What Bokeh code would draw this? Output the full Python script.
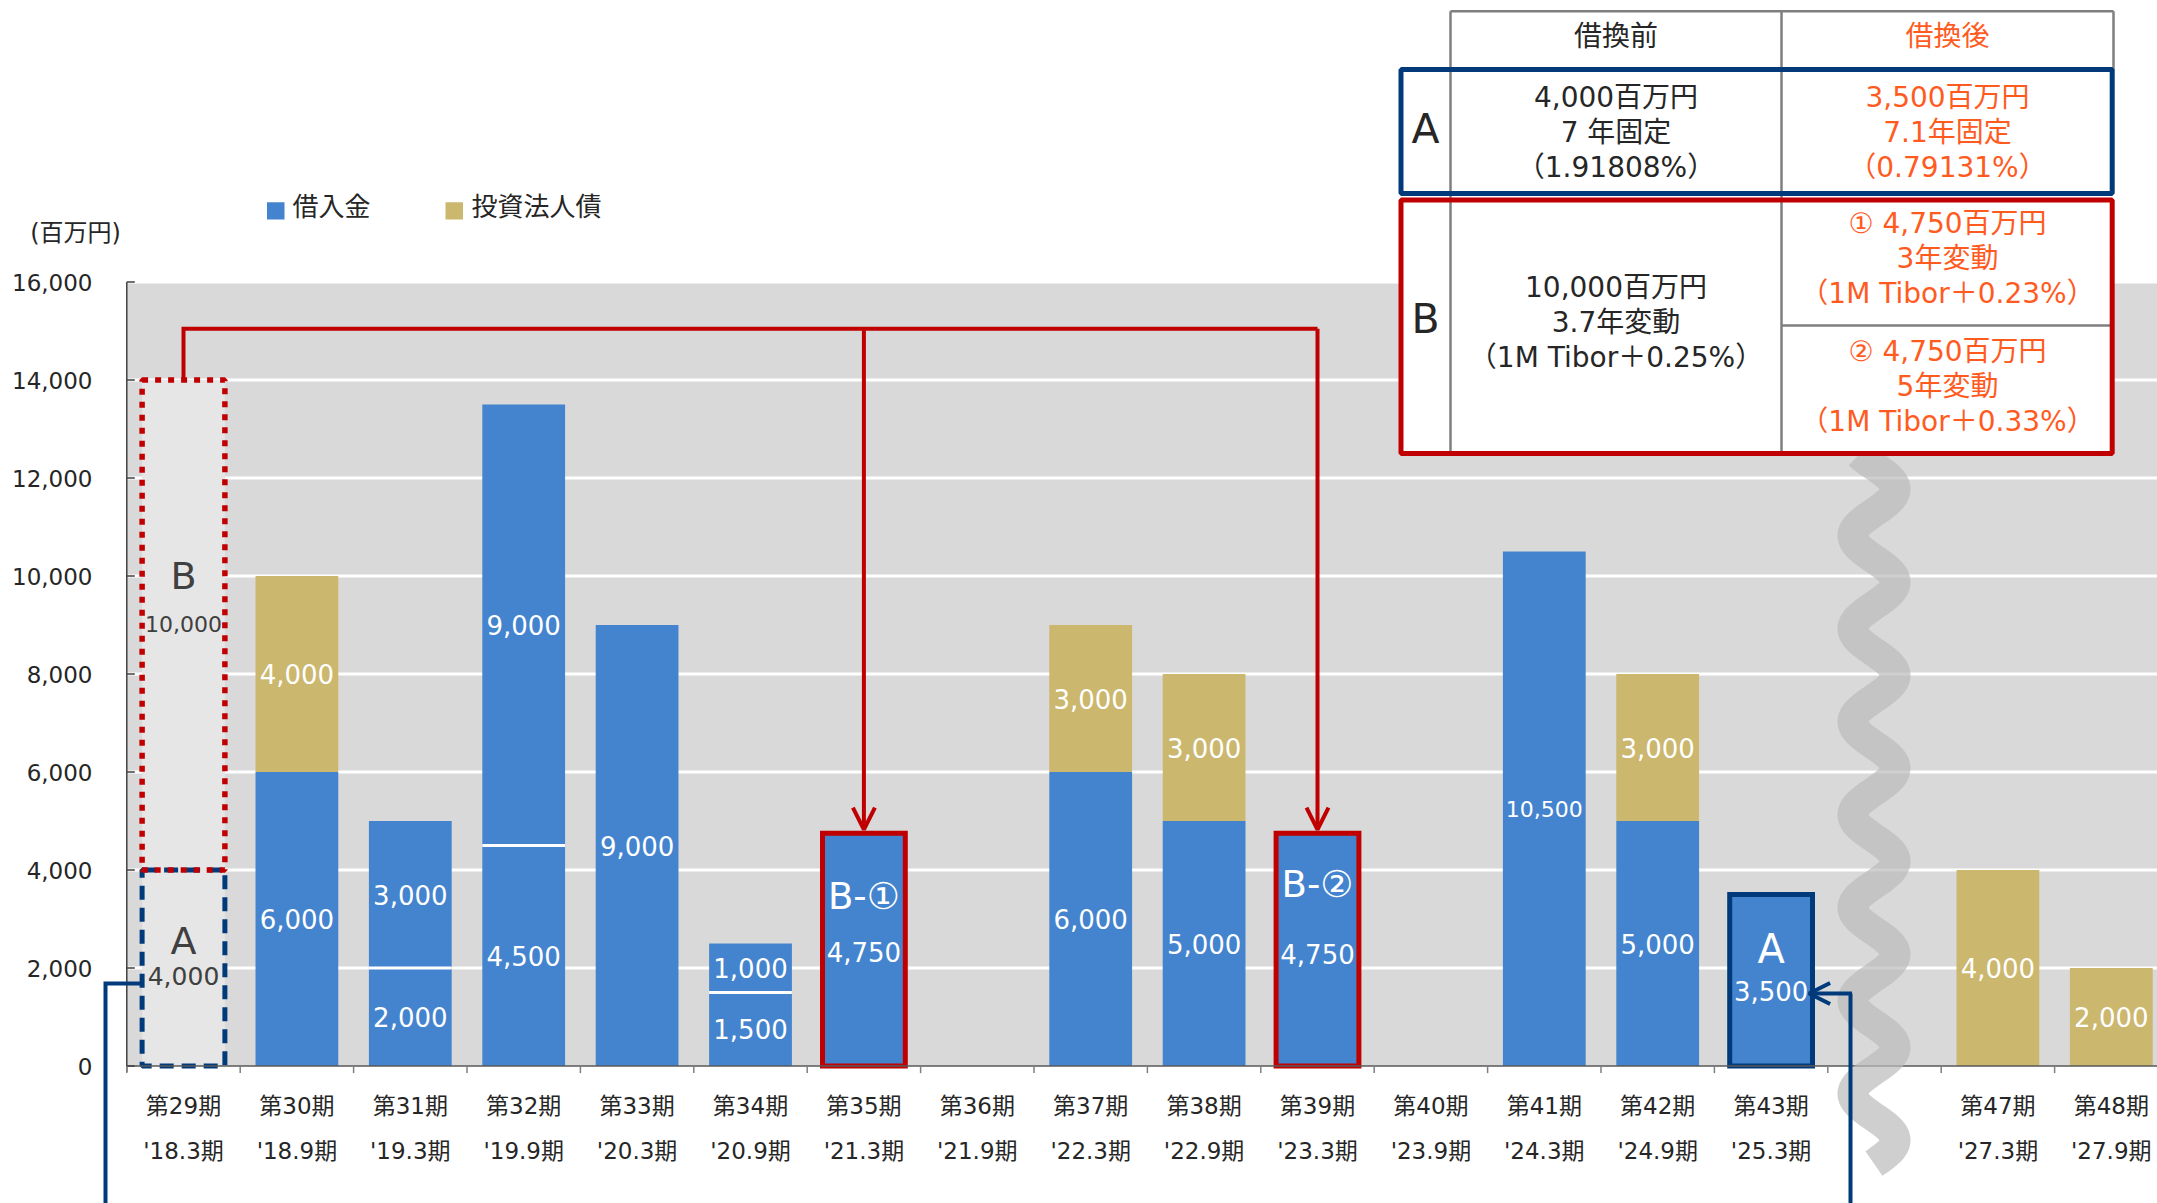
import math
from bokeh.plotting import figure
from bokeh.models import Range1d, Arrow, OpenHead
from bokeh.core.properties import value
from bokeh.embed import file_html
from bokeh.resources import INLINE

# ---------------- data ----------------
period_labels = ["第29期", "第30期", "第31期", "第32期", "第33期", "第34期", "第35期", "第36期",
                 "第37期", "第38期", "第39期", "第40期", "第41期", "第42期", "第43期", "第47期", "第48期"]
fiscal_labels = ["'18.3期", "'18.9期", "'19.3期", "'19.9期", "'20.3期", "'20.9期", "'21.3期", "'21.9期",
                 "'22.3期", "'22.9期", "'23.3期", "'23.9期", "'24.3期", "'24.9期", "'25.3期", "'27.3期", "'27.9期"]
# slot index on the category axis (one empty slot = axis break between 第43期 and 第47期)
slots = [0, 1, 2, 3, 4, 5, 6, 7, 8, 9, 10, 11, 12, 13, 14, 16, 17]
loan_1 = [0, 6000, 2000, 4500, 9000, 1500, 4750, 0, 6000, 5000, 4750, 0, 10500, 5000, 3500, 0, 0]
loan_2 = [0, 0, 3000, 9000, 0, 1000, 0, 0, 0, 0, 0, 0, 0, 0, 0, 0, 0]
bonds = [0, 4000, 0, 0, 0, 0, 0, 0, 3000, 3000, 0, 0, 0, 3000, 0, 4000, 2000]
series_names = ["借入金", "投資法人債"]
refi_A = 4000      # 第29期 refinanced tranche A
refi_B = 10000     # 第29期 refinanced tranche B
connector_level = 15050
y_ticks = [0, 2000, 4000, 6000, 8000, 10000, 12000, 14000, 16000]
y_tick_labels = ["0", "2,000", "4,000", "6,000", "8,000", "10,000", "12,000", "14,000", "16,000"]
unit_label = "(百万円)"
# tags on refinanced bars: period -> (tag, tag y, value-label y)
tags = {"第35期": ("B-①", 3460, 2330), "第39期": ("B-②", 3700, 2280), "第43期": ("A", 2400, 1540)}

table_head = ["借換前", "借換後"]
table_A_before = ["4,000百万円", "7 年固定", "（1.91808%）"]
table_A_after = ["3,500百万円", "7.1年固定", "（0.79131%）"]
table_B_before = ["10,000百万円", "3.7年変動", "（1M Tibor＋0.25%）"]
table_B1_after = ["① 4,750百万円", "3年変動", "（1M Tibor＋0.23%）"]
table_B2_after = ["② 4,750百万円", "5年変動", "（1M Tibor＋0.33%）"]

# ---------------- styling ----------------
BLUE = "#4484CE"
GOLD = "#CBB76E"
BG = "#D9D9D9"
RED = "#C00000"
NAVY = "#003A7A"
ORANGE = "#FF5B1F"
TXT = "#262626"
LAT = "DejaVu Sans"
CJK = "Noto Sans CJK JP"
MIX = "DejaVu Sans, Noto Sans CJK JP"
BW = 0.73

W, H = 2157, 1203
X0, SW = 126.3, 113.4      # pixel of slot-0 left edge, pixels per slot
Y0, K = 1065.6, 0.049      # pixel of value 0, pixels per unit


def X(px):
    return (px - X0) / SW


def Y(py):
    return (Y0 - py) / K


p = figure(width=W, height=H, x_range=Range1d(X(0), X(W)), y_range=Range1d(Y(H), Y(0)),
           output_backend="svg", toolbar_location=None, min_border=0,
           x_axis_type=None, y_axis_type=None)
p.outline_line_color = None
p.background_fill_color = "white"
p.border_fill_color = "white"

centers = [s + 0.5 for s in slots]
n_slots = 18

# plot area + gridlines
p.quad(left=0, right=n_slots, bottom=y_ticks[0], top=y_ticks[-1], fill_color=BG, line_color=None)
p.segment(x0=[0] * (len(y_ticks) - 1), x1=[n_slots] * (len(y_ticks) - 1), y0=y_ticks[1:], y1=y_ticks[1:],
          line_color="white", line_width=3)

# bars
stack1 = loan_1
stack2 = [a + b for a, b in zip(loan_1, loan_2)]
stack3 = [a + b + c for a, b, c in zip(loan_1, loan_2, bonds)]
p.vbar(x=centers, width=BW, bottom=0, top=stack1, fill_color=BLUE, line_color=None)
p.vbar(x=centers, width=BW, bottom=stack1, top=stack2, fill_color=BLUE, line_color=None)
p.vbar(x=centers, width=BW, bottom=stack2, top=stack3, fill_color=GOLD, line_color=None)

# white separators between loan tranches
sx0, sx1, sy = [], [], []
for c, a, b in zip(centers, loan_1, loan_2):
    if a and b:
        sx0.append(c - BW / 2)
        sx1.append(c + BW / 2)
        sy.append(a)
p.segment(x0=sx0, x1=sx1, y0=sy, y1=sy, line_color="white", line_width=3)

# 第29期 refinanced boxes
c29 = centers[0]
p.vbar(x=[c29], width=BW, bottom=0, top=refi_A + refi_B, fill_color="#E6E6E6", line_color=None)
p.vbar(x=[c29], width=BW, bottom=0, top=refi_A, fill_color=None, line_color=NAVY, line_width=5,
       line_dash="14 8")
p.vbar(x=[c29], width=BW, bottom=refi_A, top=refi_A + refi_B, fill_color=None, line_color=RED,
       line_width=5.5, line_dash="6 7")

# highlighted refinanced bars
for name, col in (("第35期", RED), ("第39期", RED), ("第43期", NAVY)):
    i = period_labels.index(name)
    p.vbar(x=[centers[i]], width=BW, bottom=0, top=stack3[i], fill_color=None, line_color=col,
           line_width=5, line_join="miter")

# axes
p.segment(x0=[0], y0=[0], x1=[n_slots], y1=[0], line_color="#595959", line_width=1.5)
p.segment(x0=[0], y0=[Y(Y0 + 6)], x1=[0], y1=[y_ticks[-1]], line_color="#404040", line_width=1.5)
p.segment(x0=[0] * len(y_ticks), x1=[X(X0 + 8)] * len(y_ticks), y0=y_ticks, y1=y_ticks,
          line_color="#404040", line_width=1.5)
bounds = list(range(n_slots + 1))
p.segment(x0=bounds, x1=bounds, y0=[0] * len(bounds), y1=[Y(Y0 + 7)] * len(bounds),
          line_color="#7F7F7F", line_width=1.5)

p.text(x=[X(92)] * len(y_ticks), y=y_ticks, text=y_tick_labels, text_align="right", text_baseline="middle",
       text_font=value(LAT), text_font_size="23px", text_color=TXT)
p.text(x=[X(75)], y=[Y(232)], text=[unit_label], text_align="center", text_baseline="middle",
       text_font=value(MIX), text_font_size="24px", text_color=TXT)
p.text(x=centers, y=[Y(1105)] * len(centers), text=period_labels, text_align="center", text_baseline="middle",
       text_font=value(MIX), text_font_size="23px", text_color=TXT)
p.text(x=centers, y=[Y(1150)] * len(centers), text=fiscal_labels, text_align="center", text_baseline="middle",
       text_font=value(MIX), text_font_size="23px", text_color=TXT)

# value labels
lx, ly, lt, lf = [], [], [], []
for i, c in enumerate(centers):
    a, b, g = loan_1[i], loan_2[i], bonds[i]
    segs = []
    if a:
        segs.append((a, a / 2))
    if b:
        segs.append((b, a + b / 2))
    if g:
        segs.append((g, a + b + g / 2))
    for v, yc in segs:
        if period_labels[i] in tags:
            yc = tags[period_labels[i]][2]
        t = f"{v:,}"
        lx.append(c)
        ly.append(yc)
        lt.append(t)
        lf.append("22px" if len(t) > 5 else "26px")
for fs in ("22px", "26px"):
    idx = [k for k in range(len(lt)) if lf[k] == fs]
    p.text(x=[lx[k] for k in idx], y=[ly[k] for k in idx], text=[lt[k] for k in idx], text_align="center",
           text_baseline="middle", text_font=value(LAT), text_font_size=fs, text_color="white")
for name, (tag, ty, _) in tags.items():
    i = period_labels.index(name)
    p.text(x=[centers[i]], y=[ty], text=[tag], text_align="center", text_baseline="middle",
           text_font=value(MIX), text_font_size="37px" if tag != "A" else "40px", text_color="white")

# 第29期 box labels
p.text(x=[c29, c29], y=[2560, refi_A + 6000], text=["A", "B"], text_align="center", text_baseline="middle",
       text_font=value(LAT), text_font_size="38px", text_color="#404040")
p.text(x=[c29], y=[1830], text=[f"{refi_A:,}"], text_align="center", text_baseline="middle",
       text_font=value(LAT), text_font_size="25px", text_color="#404040")
p.text(x=[c29], y=[refi_A + 5030], text=[f"{refi_B:,}"], text_align="center", text_baseline="middle",
       text_font=value(LAT), text_font_size="22px", text_color="#404040")

# axis-break wave
wy = [454 + k for k in range(0, 710)]
wx = [1873.5 + 21.5 * math.cos(2 * math.pi * (yy - 1046.7) / 93.0) for yy in wy]
p.line(x=[X(v) for v in wx], y=[Y(v) for v in wy], line_color="#BABABA", line_alpha=0.7, line_width=30,
       line_cap="butt")

# red connectors B -> B-①, B-②
i35, i39 = period_labels.index("第35期"), period_labels.index("第39期")
p.line(x=[c29, c29, centers[i39]], y=[refi_A + refi_B, connector_level, connector_level],
       line_color=RED, line_width=4, line_join="miter")
for i in (i35, i39):
    p.add_layout(Arrow(x_start=centers[i], y_start=connector_level, x_end=centers[i], y_end=stack3[i] + 75,
                       line_color=RED, line_width=4,
                       end=OpenHead(size=22, line_color=RED, line_width=4)))

# navy connectors A -> A
i43 = period_labels.index("第43期")
p.line(x=[c29 - BW / 2, X(105), X(105)], y=[Y(983), Y(983), Y(H + 10)], line_color=NAVY, line_width=4,
       line_join="miter")
p.line(x=[X(1850), X(1850)], y=[Y(H + 10), Y(993)], line_color=NAVY, line_width=4)
p.add_layout(Arrow(x_start=X(1851.5), y_start=Y(993), x_end=centers[i43] + BW / 2 - 0.03, y_end=Y(993),
                   line_color=NAVY, line_width=4,
                   end=OpenHead(size=21, line_color=NAVY, line_width=4)))

# legend
p.quad(left=[X(266.5), X(445)], right=[X(284), X(462.5)], top=[Y(201.7)] * 2, bottom=[Y(219)] * 2,
       fill_color=[BLUE, GOLD], line_color=None)
p.text(x=[X(292), X(471)], y=[Y(204)] * 2, text=series_names, text_align="left", text_baseline="middle",
       text_font=value(CJK), text_font_size="26px", text_color=TXT)

# refinancing table
p.quad(left=[X(1399)], right=[X(2113)], top=[Y(10.7)], bottom=[Y(454)], fill_color="white", line_color=None)
GR = "#7F7F7F"
p.segment(x0=[X(1450), X(1450), X(1781), X(2113), X(1781)],
          y0=[Y(10.7), Y(10.7), Y(10.7), Y(10.7), Y(325)],
          x1=[X(2113), X(1450), X(1781), X(2113), X(2111.7)],
          y1=[Y(10.7), Y(453), Y(453), Y(69), Y(325)],
          line_color=GR, line_width=2.5)
p.quad(left=[X(1400.5)], right=[X(2111.7)], top=[Y(69)], bottom=[Y(193)], fill_color=None,
       line_color=NAVY, line_width=5)
p.quad(left=[X(1400.5)], right=[X(2111.7)], top=[Y(199.5)], bottom=[Y(453)], fill_color=None,
       line_color=RED, line_width=5)

C1, C2 = X(1615.5), X(1947)


def lines(cx, ys, texts, color):
    p.text(x=[cx] * len(texts), y=[Y(v) for v in ys], text=texts, text_align="center", text_baseline="middle",
           text_font=value(MIX), text_font_size="28px", text_color=color)


lines(C1, [36], table_head[:1], TXT)
lines(C2, [36], table_head[1:], ORANGE)
lines(C1, [97, 132, 167], table_A_before, TXT)
lines(C2, [97, 132, 167], table_A_after, ORANGE)
lines(C1, [287, 322, 357], table_B_before, TXT)
lines(C2, [223, 258, 293], table_B1_after, ORANGE)
lines(C2, [351, 386, 421], table_B2_after, ORANGE)
p.text(x=[X(1425), X(1425)], y=[Y(128), Y(318)], text=["A", "B"], text_align="center", text_baseline="middle",
       text_font=value(LAT), text_font_size="41px", text_color=TXT)

open("out.html", "w").write(file_html(p, INLINE))
